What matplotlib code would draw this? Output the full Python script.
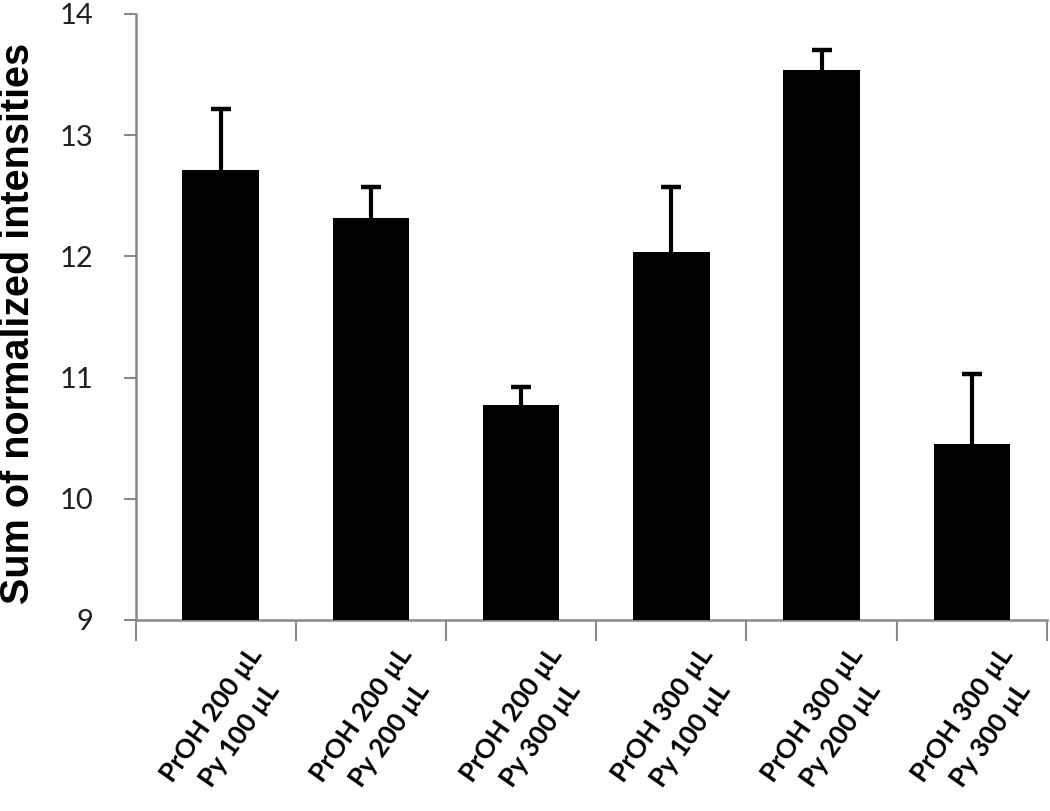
import numpy as np
import matplotlib.pyplot as plt
from matplotlib.transforms import ScaledTranslation

categories = ['PrOH 200 \u00b5L\nPy 100 \u00b5L', 'PrOH 200 \u00b5L\nPy 200 \u00b5L',
              'PrOH 200 \u00b5L\nPy 300 \u00b5L', 'PrOH 300 \u00b5L\nPy 100 \u00b5L',
              'PrOH 300 \u00b5L\nPy 200 \u00b5L', 'PrOH 300 \u00b5L\nPy 300 \u00b5L']
values = [12.71, 12.32, 10.77, 12.04, 13.54, 10.45]
errors = [0.51, 0.25, 0.15, 0.53, 0.16, 0.58]
yticks = [9, 10, 11, 12, 13, 14]

axis_col = '#898989'

fig = plt.figure(figsize=(10.5, 8.11), dpi=100)
ax = fig.add_axes([136/1050, 1 - 620/811, (1047-136)/1050, (620-14)/811])

x = np.arange(len(values))
ax.bar(x, values, width=0.51, color='black', zorder=3)
# lower half of the error bar is hidden behind the bar
ax.errorbar(x, values, yerr=errors, fmt='none', ecolor='black',
            elinewidth=3, capsize=7.5, capthick=3.2, zorder=2)

ax.set_ylim(9, 14)
ax.set_xlim(-0.563, 5.5)
ax.set_yticks(yticks)
ax.set_yticklabels([str(t) for t in yticks], fontsize=21, family='Lato', color='#222222')
ax.tick_params(axis='y', direction='out', length=9, width=1.5, color=axis_col, pad=22)

ax.set_xticks(x)
ax.set_xticklabels(categories, rotation=55, ha='right', va='center',
                   rotation_mode='anchor', fontsize=19, family='Lato',
                   fontweight='bold', multialignment='center', linespacing=1.55)
ax.tick_params(axis='x', which='major', length=0, pad=29)
off = ScaledTranslation(0.5, 0, fig.dpi_scale_trans)
for lab in ax.get_xticklabels():
    lab.set_transform(lab.get_transform() + off)
ax.set_xticks([ax.get_xlim()[0]] + list(x[:-1] + 0.5) + [5.5], minor=True)
ax.tick_params(axis='x', which='minor', direction='out', length=15, width=1.5, color=axis_col)

for s in ['top', 'right']:
    ax.spines[s].set_visible(False)
for s in ['left', 'bottom']:
    ax.spines[s].set_color(axis_col)
    ax.spines[s].set_linewidth(1.8)

ax.set_ylabel('Sum of normalized intensities', fontsize=28.5, fontweight='bold',
              family='Liberation Sans')
ax.yaxis.set_label_coords(-99/911, 0.49)

fig.savefig('out.png', dpi=100)
